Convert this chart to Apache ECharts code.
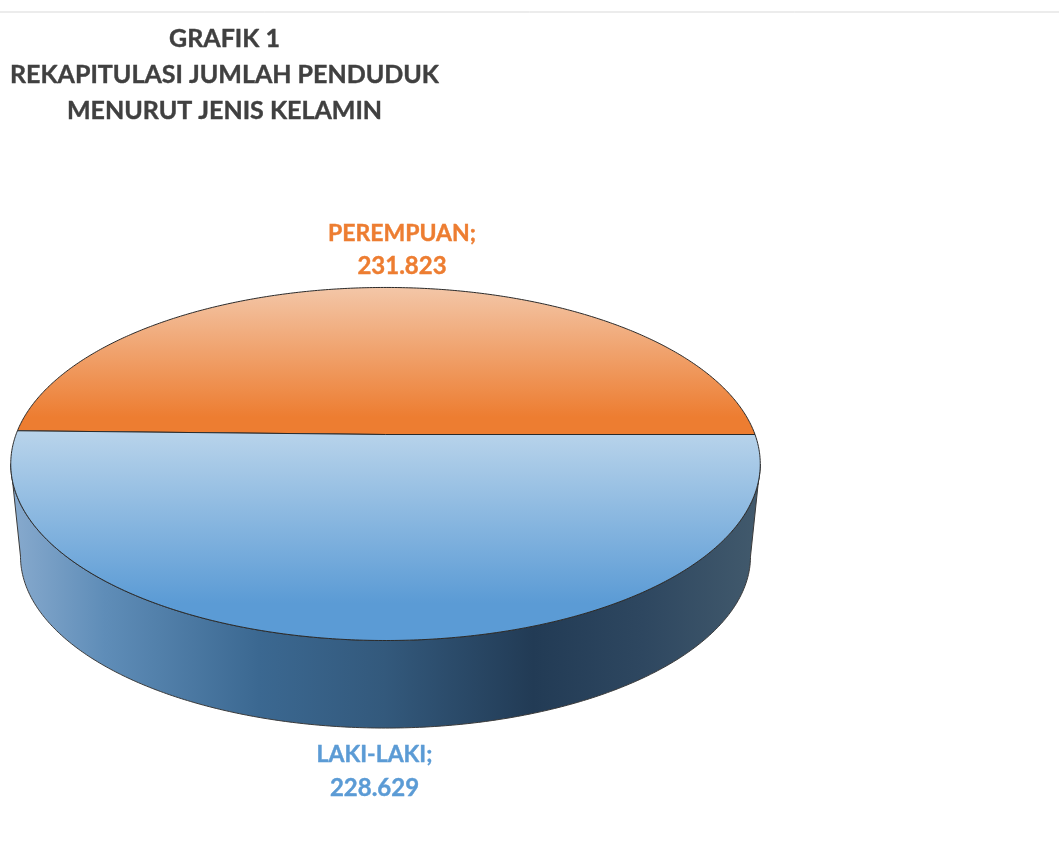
<!DOCTYPE html>
<html>
<head>
<meta charset="utf-8">
<style>html,body{margin:0;padding:0;background:#fff}#c{width:1059px;height:841px}</style>
<script src="https://cdn.jsdelivr.net/npm/echarts@6/dist/echarts.min.js"></script>
</head>
<body>
<div id="c"></div>
<script>
const categories = ['PEREMPUAN', 'LAKI-LAKI'];
const seriesValues = [231823, 228629];
const valueLabels = ['231.823', '228.629'];
const titleLines = ['GRAFIK 1', 'REKAPITULASI JUMLAH PENDUDUK', 'MENURUT JENIS KELAMIN'];
const sliceColors = ['#ED7D31', '#5B9BD5'];

// Perspective projection of the pie's disc to the screen
const CX = 385.5, CY = 434.5, RX = 369.5, RY = 171.6, K = 0.167;
const WALL_SCALE = 0.974, WALL_Y = 527.4;
// The reference draws the left spoke slightly above the strict share of the values
const SPOKE_OFFSET = -2.5;
const total = seriesValues.reduce((a, b) => a + b, 0);

function project(deg, scale, y0) {
  const t = deg * Math.PI / 180, u = Math.cos(t), v = -Math.sin(t), w = 1 - K * v;
  return [CX + scale * RX * u / w, y0 + scale * RY * v / w];
}
function arc(from, to, scale, y0) {
  const pts = [], n = Math.max(2, Math.ceil(Math.abs(to - from) * 2));
  for (let i = 0; i <= n; i++) pts.push(project(from + (to - from) * i / n, scale, y0));
  return pts;
}
function grad(x0, y0, x1, y1, stops) {
  return new echarts.graphic.LinearGradient(x0, y0, x1, y1,
    stops.map(s => ({ offset: s[0], color: s[1] })), true);
}
const tangent = Math.asin(K) * 180 / Math.PI;   // silhouette angle of the rim

const chart = echarts.init(document.getElementById('c'), null, { renderer: 'canvas' });
const font = 'Lato, "Open Sans", sans-serif';
const spoke = seriesValues[0] / total * 360 + SPOKE_OFFSET;

function renderItem(params, api) {
  const i = params.dataIndex;
  const a0 = i === 0 ? 0 : spoke;
  const a1 = i === 0 ? spoke : spoke + (360 - spoke) * api.value(0) / seriesValues[1];
  const children = [];
  const top = arc(a0, a1, 1, CY).concat([[CX, CY]]);
  if (i === 1) {
    const upper = arc(360 - tangent, 180 + tangent, 1, CY);
    const lower = arc(180 + tangent, 360 - tangent, WALL_SCALE, WALL_Y);
    children.push({
      type: 'polygon', shape: { points: upper.concat(lower) },
      style: {
        fill: grad(15, 0, 755, 0, [
          [0, '#86A9CD'], [0.12, '#5F8DB8'], [0.33, '#3B6891'], [0.5, '#33597C'],
          [0.7, '#223B55'], [0.85, '#2E4760'], [1, '#41596C']]),
        stroke: '#3A3A3A', lineWidth: 1
      }
    });
  }
  children.push({
    type: 'polygon', shape: { points: top },
    style: {
      fill: i === 0
        ? grad(0, 288, 0, 435, [[0, '#F3C6A7'], [0.88, '#ED7D31'], [1, '#ED7D31']])
        : grad(0, 431, 0, 641, [[0, '#B9D4EB'], [0.82, '#5B9BD5'], [1, '#5B9BD5']]),
      stroke: '#2A2A2A', lineWidth: 1
    }
  });
  const col = sliceColors[i];
  children.push({
    type: 'text',
    style: {
      x: i === 0 ? 402 : 374.5, y: i === 0 ? 250 : 771.5,
      text: '{n|' + categories[i] + ';}\n{v|' + valueLabels[i] + '}',
      fill: col, stroke: col, lineWidth: 0.4,
      align: 'center', verticalAlign: 'middle',
      rich: {
        n: { font: 'bold 23px ' + font, lineHeight: 33, fill: col },
        v: { font: 'bold 24px ' + font, lineHeight: 33, fill: col }
      }
    }
  });
  return { type: 'group', children };
}

chart.setOption({
  animation: false,
  backgroundColor: '#fff',
  title: {
    text: titleLines.join('\n'), left: 219.5, top: 16, textAlign: 'center',
    textStyle: { fontFamily: font, fontSize: 25, fontWeight: 'bold', color: '#404040', lineHeight: 36,
      textBorderColor: '#404040', textBorderWidth: 0.4 }
  },
  graphic: [{
    type: 'line', shape: { x1: 0, y1: 12, x2: 1059, y2: 12 },
    style: { stroke: '#D9D9D9', lineWidth: 1 }
  }],
  series: [{
    type: 'custom', coordinateSystem: 'none', renderItem,
    data: categories.map((name, i) => ({ name, value: [seriesValues[i]] })),
    encode: { value: 0 }
  }]
});
</script>
</body>
</html>
